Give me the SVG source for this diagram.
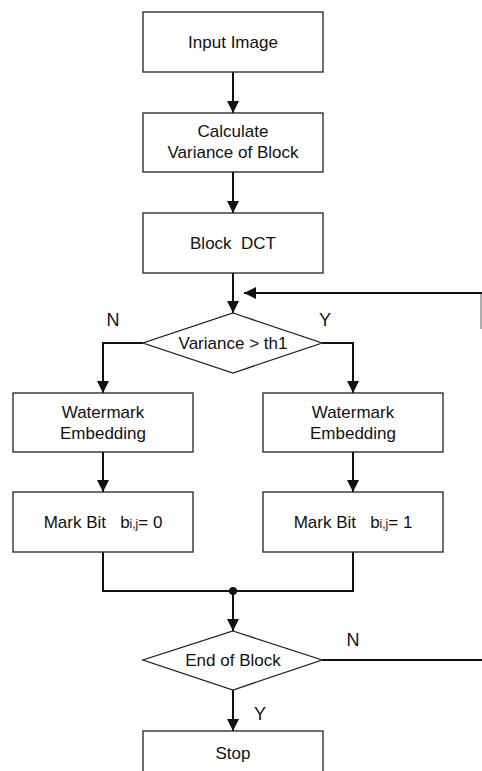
<svg xmlns="http://www.w3.org/2000/svg" width="482" height="771" viewBox="0 0 482 771">
  <style>
    .box { fill: #ffffff; stroke: #222; stroke-width: 1.3; }
    .txt { font-family: "Liberation Sans", Arial, sans-serif; font-size: 17px; fill: #111; text-anchor: middle; }
    .lbl { font-family: "Liberation Sans", Arial, sans-serif; font-size: 18px; fill: #111; text-anchor: middle; }
    .sub { font-size: 12px; }
    .wire { fill: none; stroke: #111; stroke-width: 2; }
  </style>
  <defs>
    <marker id="arrow" markerUnits="userSpaceOnUse" markerWidth="12" markerHeight="14" viewBox="0 0 12 14" refX="12" refY="6" orient="auto">
      <path d="M0,0 L12,6 L0,12 Z" fill="#111"/>
    </marker>
  </defs>
  <rect width="482" height="771" fill="#ffffff"/>

  <g id="connectors">
    <line class="wire" x1="233" y1="72" x2="233" y2="113" marker-end="url(#arrow)"/>
    <line class="wire" x1="233" y1="172" x2="233" y2="213" marker-end="url(#arrow)"/>
    <line class="wire" x1="233" y1="273" x2="233" y2="313" marker-end="url(#arrow)"/>
    <!-- loop-back return, running along the right margin -->
    <line x1="481" y1="292" x2="481" y2="329" stroke="#777" stroke-width="1.2"/>
    <line class="wire" x1="482" y1="293" x2="244" y2="293" marker-end="url(#arrow)"/>
    <polyline class="wire" points="143,343 103,343 103,393" marker-end="url(#arrow)"/>
    <polyline class="wire" points="322,343 353,343 353,393" marker-end="url(#arrow)"/>
    <line class="wire" x1="103" y1="452" x2="103" y2="492" marker-end="url(#arrow)"/>
    <line class="wire" x1="353" y1="452" x2="353" y2="492" marker-end="url(#arrow)"/>
    <polyline class="wire" points="103,552 103,591 353,591 353,552"/>
    <circle cx="233" cy="591" r="4" fill="#111"/>
    <line class="wire" x1="233" y1="591" x2="233" y2="631" marker-end="url(#arrow)"/>
    <line class="wire" x1="322" y1="660" x2="482" y2="660"/>
    <line class="wire" x1="233" y1="690" x2="233" y2="731" marker-end="url(#arrow)"/>
    <text class="lbl" x="113" y="326">N</text>
    <text class="lbl" x="325" y="326">Y</text>
    <text class="lbl" x="353" y="646">N</text>
    <text class="lbl" x="260" y="720">Y</text>
  </g>

  <g id="input-image">
    <rect class="box" x="143" y="12" width="180" height="60"/>
    <text class="txt" x="233" y="48">Input Image</text>
  </g>

  <g id="calc-variance">
    <rect class="box" x="143" y="113" width="180" height="59"/>
    <text class="txt" x="233" y="137">Calculate</text>
    <text class="txt" x="233" y="158">Variance of Block</text>
  </g>

  <g id="block-dct">
    <rect class="box" x="143" y="213" width="180" height="60"/>
    <text class="txt" x="233" y="249" xml:space="preserve">Block  DCT</text>
  </g>

  <g id="variance-test">
    <polygon class="box" points="233,313 322,343 233,373 143,343"/>
    <text class="txt" x="233" y="349">Variance &gt; th1</text>
  </g>

  <g id="embed-left">
    <rect class="box" x="13" y="393" width="180" height="59"/>
    <text class="txt" x="103" y="418">Watermark</text>
    <text class="txt" x="103" y="439">Embedding</text>
  </g>

  <g id="embed-right">
    <rect class="box" x="263" y="393" width="180" height="59"/>
    <text class="txt" x="353" y="418">Watermark</text>
    <text class="txt" x="353" y="439">Embedding</text>
  </g>

  <g id="mark-zero">
    <rect class="box" x="13" y="492" width="180" height="60"/>
    <text class="txt" x="103" y="528" xml:space="preserve">Mark Bit   b<tspan class="sub">i,j</tspan>= 0</text>
  </g>

  <g id="mark-one">
    <rect class="box" x="263" y="492" width="180" height="60"/>
    <text class="txt" x="353" y="528" xml:space="preserve">Mark Bit   b<tspan class="sub">i,j</tspan>= 1</text>
  </g>

  <g id="end-test">
    <polygon class="box" points="233,631 322,660 233,690 143,660"/>
    <text class="txt" x="233" y="666">End of Block</text>
  </g>

  <g id="stop">
    <rect class="box" x="143" y="731" width="180" height="60"/>
    <text class="txt" x="233" y="759">Stop</text>
  </g>
</svg>
